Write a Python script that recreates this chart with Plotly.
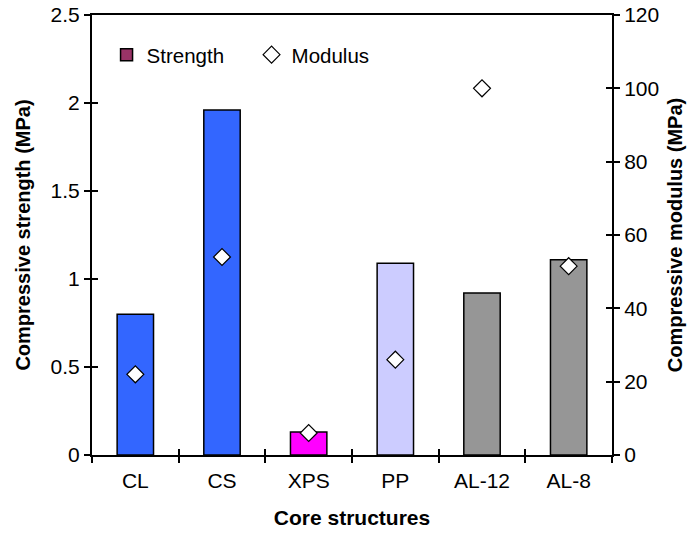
import plotly.graph_objects as go

categories = ["CL", "CS", "XPS", "PP", "AL-12", "AL-8"]
strength = [0.80, 1.96, 0.13, 1.09, 0.92, 1.11]
modulus = [22, 54, 6, 26, 100, 51.5]
bar_colors = ["#3366FF", "#3366FF", "#FF00FF", "#CCCCFF", "#969696", "#969696"]
y1_ticks = [0, 0.5, 1, 1.5, 2, 2.5]
y1_labels = ["0", "0.5", "1", "1.5", "2", "2.5"]
y2_ticks = [0, 20, 40, 60, 80, 100, 120]

xpos = list(range(len(categories)))
bounds = [i - 0.5 for i in range(len(categories) + 1)]

FONT = "Liberation Sans, Arial, sans-serif"
FS = 21

fig = go.Figure()
fig.add_trace(go.Bar(x=xpos, y=strength, width=0.42,
                     marker=dict(color=bar_colors, line=dict(color="black", width=1.5)),
                     showlegend=False, hoverinfo="skip"))
fig.add_trace(go.Scatter(x=[None], y=[None], mode="markers", name="Strength",
                         marker=dict(symbol="square", size=12, color="#993366",
                                     line=dict(color="black", width=1.5))))
fig.add_trace(go.Scatter(x=xpos, y=modulus, yaxis="y2", mode="markers", name="Modulus",
                         marker=dict(symbol="diamond", size=13, color="white",
                                     line=dict(color="black", width=1.2))))
# helper traces for crossing tick marks
fig.add_trace(go.Scatter(x=[None], y=[None], xaxis="x3", yaxis="y", showlegend=False))
fig.add_trace(go.Scatter(x=[None], y=[None], xaxis="x", yaxis="y3", showlegend=False))
fig.add_trace(go.Scatter(x=[None], y=[None], xaxis="x", yaxis="y4", showlegend=False))

axcommon = dict(showgrid=False, zeroline=False, linecolor="black", linewidth=2,
                tickcolor="black", tickwidth=1.5, automargin=False,
                ticklabeloverflow="allow",
                tickfont=dict(family=FONT, size=FS, color="black"))
inner = dict(ticks="inside", ticklen=6, tickcolor="black", tickwidth=1.5,
             showticklabels=False, showline=False, showgrid=False, zeroline=False,
             automargin=False)

fig.update_layout(
    width=697, height=533,
    margin=dict(l=92, r=85, t=15, b=78),
    plot_bgcolor="white", paper_bgcolor="white",
    font=dict(family=FONT, size=FS, color="black"),
    xaxis=dict(range=[-0.5, 5.5], tickmode="array", tickvals=xpos, ticktext=categories,
               ticks="", showline=True, mirror=True, ticklabelstandoff=6,
               minor=dict(tickmode="array", tickvals=bounds, ticks="outside", ticklen=6,
                          tickcolor="black", tickwidth=1.5),
               title=dict(text="<b>Core structures</b>", font=dict(size=21), standoff=19),
               **axcommon),
    xaxis3=dict(overlaying="x", anchor="y", range=[-0.5, 5.5], tickmode="array",
                tickvals=bounds, **inner),
    yaxis=dict(range=[0, 2.5], tickmode="array", tickvals=y1_ticks, ticktext=y1_labels,
               ticks="outside", ticklen=6, showline=True, mirror=True,
               title=dict(text="<b>Compressive strength (MPa)</b>", font=dict(size=20), standoff=15),
               **axcommon),
    yaxis3=dict(overlaying="y", anchor="x", side="left", range=[0, 2.5], tickmode="array",
                tickvals=y1_ticks, **inner),
    yaxis2=dict(overlaying="y", side="right", anchor="x", range=[0, 120], tickmode="array",
                tickvals=y2_ticks, ticks="outside", ticklen=6, showline=True,
                title=dict(text="<b>Compressive modulus (MPa)</b>", font=dict(size=20), standoff=10),
                **axcommon),
    yaxis4=dict(overlaying="y", side="right", anchor="x", range=[0, 120], tickmode="array",
                tickvals=y2_ticks, **inner),
    legend=dict(orientation="h", x=0.028, y=0.955, xanchor="left", yanchor="top",
                bgcolor="rgba(0,0,0,0)", font=dict(size=20.5),
                entrywidth=100, entrywidthmode="pixels",
                tracegroupgap=0),
    bargap=0.5,
)

fig.write_html("out.html", config={"displayModeBar": False},
               post_script="document.body.style.margin='0';document.body.style.overflow='hidden';")
